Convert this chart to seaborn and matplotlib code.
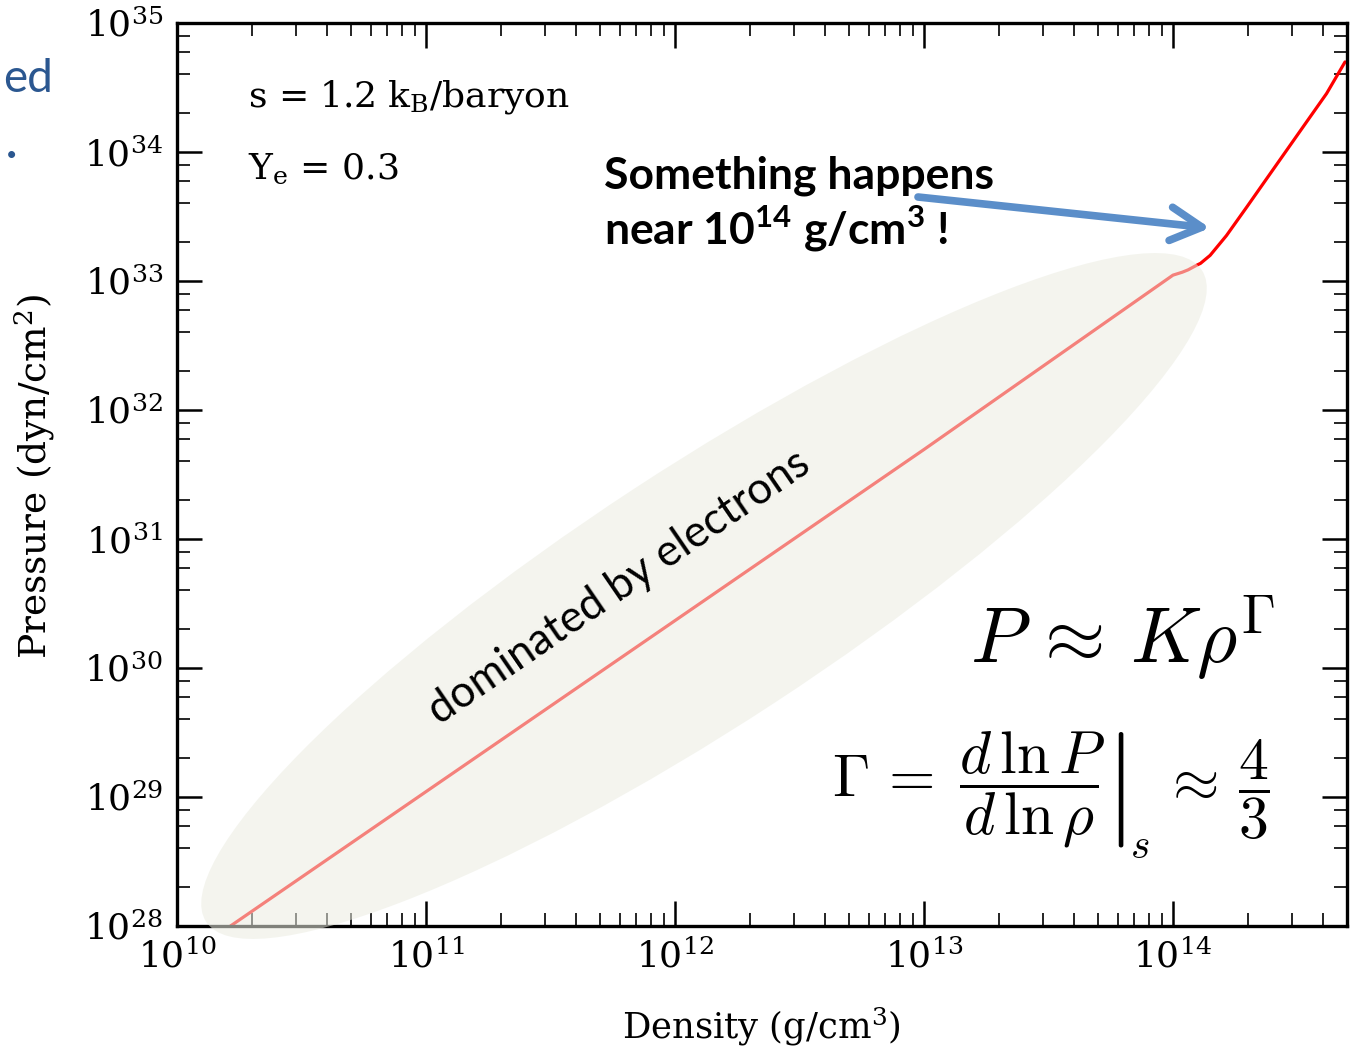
import numpy as np
import matplotlib
matplotlib.use("Agg")
import matplotlib.pyplot as plt
from matplotlib.patches import Ellipse
from matplotlib.ticker import LogLocator, NullFormatter
import seaborn as sns

# pressure vs density along s = 1.2 kB/baryon, Ye = 0.3
density = np.array([1.64e10, 1.0e11, 1.0e12, 1.0e13, 1.0e14, 1.09e14, 1.15e14, 1.25e14,
                    1.29e14, 1.41e14, 1.64e14, 1.98e14, 2.38e14, 2.86e14, 3.44e14,
                    4.14e14, 4.91e14])
pressure = np.array([1.0e28, 1.10e29, 2.33e30, 4.94e31, 1.11e33, 1.17e33, 1.22e33, 1.33e33,
                     1.37e33, 1.58e33, 2.25e33, 3.75e33, 6.22e33, 1.03e34, 1.71e34,
                     2.84e34, 4.99e34])

x_range = (1e10, 5e14)
y_range = (1e28, 1e35)
x_ticks = [1e10, 1e11, 1e12, 1e13, 1e14]
y_ticks = [1e28, 1e29, 1e30, 1e31, 1e32, 1e33, 1e34, 1e35]

x_label = "Density (g/cm$^3$)"
y_label = "Pressure (dyn/cm$^2$)"
params_text = ["s = 1.2 k$_\\mathrm{B}$/baryon", "Y$_\\mathrm{e}$ = 0.3"]
callout_text = ["Something happens", "near 10$^{\\mathbf{14}}$ g/cm$^{\\mathbf{3}}$ !"]
region_text = "dominated by electrons"
eos_text = r"$P\,\approx\,K\rho^{\Gamma}$"
gamma_left = r"$\Gamma\,=\;\left.\dfrac{d\,\ln P}{d\,\ln \rho}\right|$"
gamma_sub = r"$s$"
gamma_right = r"$\approx\,\dfrac{4}{3}$"

W, H = 1353, 1052


def fpos(x, y):
    """pixel position (from top-left) -> figure fraction"""
    return x / W, 1 - y / H


sns.set_style("ticks")
plt.rcParams["font.family"] = ["DejaVu Serif"]
plt.rcParams["text.color"] = "black"
plt.rcParams["axes.labelcolor"] = "black"
plt.rcParams["mathtext.fontset"] = "dejavuserif"
plt.rcParams["mathtext.rm"] = "Lato"
plt.rcParams["mathtext.bf"] = "Lato:bold"

fig = plt.figure(figsize=(W / 100, H / 100), dpi=100)
ax = fig.add_axes([177 / W, 1 - 926 / H, 1170 / W, 903 / H])

sns.lineplot(x=density, y=pressure, color="red", linewidth=2.3, ax=ax)
ax.set_xscale("log")
ax.set_yscale("log")
ax.set_xticks(x_ticks)
ax.set_yticks(y_ticks)
ax.set_xlim(*x_range)
ax.set_ylim(*y_range)

ax.xaxis.set_minor_locator(LogLocator(base=10, subs=np.arange(2, 10), numticks=20))
ax.yaxis.set_minor_locator(LogLocator(base=10, subs=[2, 4, 6, 8], numticks=20))
ax.xaxis.set_minor_formatter(NullFormatter())
ax.yaxis.set_minor_formatter(NullFormatter())

ax.tick_params(which="both", direction="in", top=True, right=True, colors="black")
ax.tick_params(which="major", length=18, width=1.8, labelsize=26)
ax.tick_params(which="minor", length=9.5, width=1.2)
ax.tick_params(axis="y", which="major", pad=10)
ax.tick_params(axis="x", which="major", pad=9)
for sp in ax.spines.values():
    sp.set_linewidth(2.4)
    sp.set_color("black")

ax.set_xlabel(x_label, fontsize=25.5, va="baseline")
ax.set_ylabel(y_label, fontsize=27)
ax.xaxis.set_label_coords(0.4997, -(1038 - 926) / 903)
ax.yaxis.set_label_coords(-0.1026, 0.498)

# translucent shading drawn over the curve (and axes), as on the slide
shade = Ellipse((7.04, 4.56), 11.9, 2.56, angle=33.2, transform=fig.dpi_scale_trans,
                facecolor="#ebece1", edgecolor="none", alpha=0.55, zorder=5)
fig.add_artist(shade)

fig.text(*fpos(248, 106), params_text[0], fontsize=26, va="baseline", zorder=6)
fig.text(*fpos(248, 179), params_text[1], fontsize=26, va="baseline", zorder=6)

fig.text(*fpos(604, 189), callout_text[0], fontsize=32, fontweight="bold",
         family="Lato", va="baseline", zorder=6)
fig.text(*fpos(604, 244), callout_text[1], fontsize=32, fontweight="bold",
         family="Lato", va="baseline", math_fontfamily="custom", zorder=6)
ax.annotate("", xy=(1210, H - 228), xytext=(918, H - 197),
            xycoords="figure pixels", textcoords="figure pixels",
            arrowprops=dict(arrowstyle="->,head_length=1.5,head_width=0.8",
                            color="#5B8EC9", lw=5.5, mutation_scale=15,
                            shrinkA=0, shrinkB=0))

fig.text(*fpos(626, 598), region_text, fontsize=31.5, family="Lato", rotation=34.4,
         rotation_mode="anchor", ha="center", va="baseline", zorder=6)

fig.text(*fpos(1123, 638), eos_text, fontsize=56, ha="center", va="center",
         math_fontfamily="cm", zorder=6)
fig.text(*fpos(832, 790), gamma_left, fontsize=43, ha="left", va="center",
         math_fontfamily="cm", zorder=6)
fig.text(*fpos(1130, 858), gamma_sub, fontsize=30, ha="left", va="baseline",
         math_fontfamily="cm", zorder=6)
fig.text(*fpos(1162, 790), gamma_right, fontsize=43, ha="left", va="center",
         math_fontfamily="cm", zorder=6)

# cut-off slide text at the left edge
fig.text(*fpos(3, 92), "ed", fontsize=33, family="Lato", color="#2B5790", va="baseline")
fig.text(*fpos(5, 158), ".", fontsize=40, family="Lato", color="#2B5790", va="baseline")

fig.savefig("out.png", dpi=100, facecolor="white")
